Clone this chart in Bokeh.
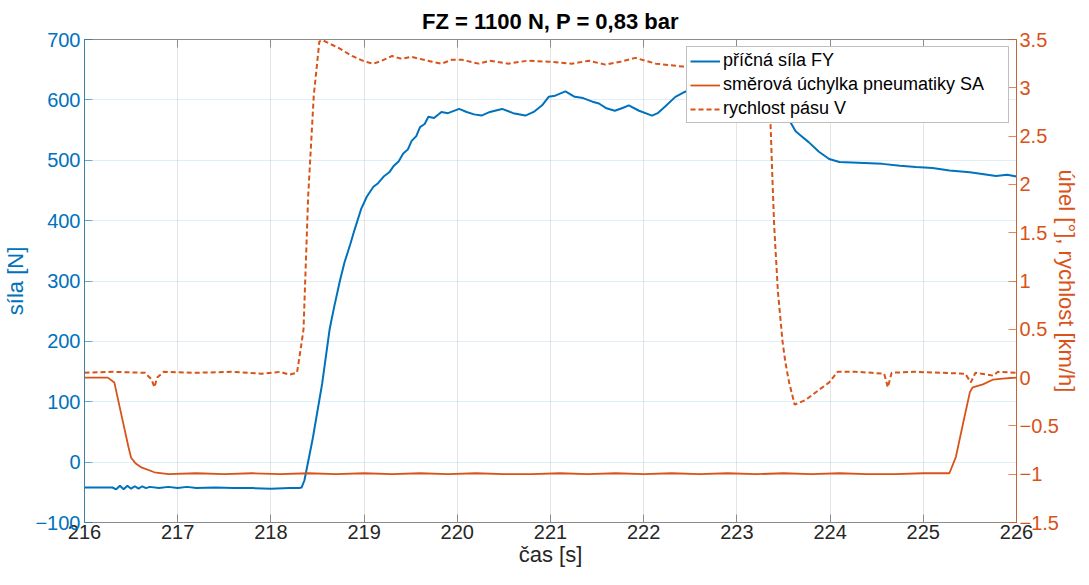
from bokeh.plotting import figure
from bokeh.models import Range1d, LinearAxis, Legend, LegendItem, FixedTicker
from bokeh.embed import file_html
from bokeh.resources import INLINE

# --- data -------------------------------------------------------------
fy_t = [216.00, 216.20, 216.30, 216.34, 216.38, 216.42, 216.46, 216.50, 216.54, 216.58,
        216.62, 216.66, 216.70, 216.80, 216.90, 217.00, 217.10, 217.20, 217.40, 217.60,
        217.80, 218.00, 218.20, 218.30, 218.33, 218.36, 218.45, 218.55, 218.63, 218.68,
        218.74, 218.79, 218.85, 218.90, 218.97, 219.03, 219.10, 219.15, 219.21, 219.27,
        219.32, 219.37, 219.42, 219.47, 219.51, 219.56, 219.60, 219.65, 219.69, 219.75,
        219.83, 219.90, 220.02, 220.10, 220.18, 220.26, 220.35, 220.48, 220.60, 220.73,
        220.82, 220.91, 220.98, 221.05, 221.16, 221.26, 221.35, 221.45, 221.52, 221.60,
        221.69, 221.78, 221.84, 221.95, 222.09, 222.15, 222.23, 222.34, 222.45, 222.60,
        222.90, 223.20, 223.40, 223.57, 223.63, 223.70, 223.77, 223.88, 223.99, 224.10,
        224.30, 224.56, 224.75, 224.92, 225.10, 225.28, 225.50, 225.65, 225.78, 225.90,
        226.00]
fy_n = [-42, -42, -42, -45, -39, -45, -39, -44, -40, -44,
        -40, -43, -41, -43, -41, -43, -41, -43, -42, -43,
        -43, -44, -43, -43, -42, -30, 40, 130, 220, 258,
        300, 331, 360, 386, 420, 440, 456, 462, 473, 480,
        491, 498, 511, 518, 532, 540, 555, 560, 572, 570,
        580, 578, 585, 580, 576, 574, 580, 585, 578, 574,
        580, 591, 605, 607, 614, 605, 603, 597, 594, 586,
        582, 587, 591, 582, 574, 578, 589, 605, 614, 612,
        605, 595, 580, 564, 548, 539, 530, 514, 502, 497,
        496, 494, 491, 489, 487, 483, 480, 477, 474, 476,
        473]

sa_t = [216.00, 216.25, 216.32, 216.39, 216.47, 216.50, 216.55, 216.61, 216.75, 216.90,
        217.20, 217.50, 217.80, 218.10, 218.40, 218.70, 219.00, 219.30, 219.60, 219.90,
        220.20, 220.50, 220.80, 221.10, 221.40, 221.70, 222.00, 222.30, 222.60, 222.90,
        223.20, 223.50, 223.80, 224.10, 224.40, 224.70, 225.00, 225.28, 225.35, 225.43,
        225.50, 225.53, 225.64, 225.75, 225.85, 226.00]
sa_deg = [0.0, 0.0, -0.05, -0.36, -0.71, -0.83, -0.89, -0.93, -0.98, -1.0,
          -0.99, -1.0, -0.99, -1.0, -0.99, -1.0, -0.99, -1.0, -0.99, -1.0,
          -0.99, -1.0, -1.0, -0.99, -1.0, -0.99, -1.0, -0.99, -1.0, -0.99,
          -1.0, -0.99, -1.0, -0.99, -1.0, -1.0, -0.99, -0.99, -0.82, -0.46,
          -0.15, -0.10, -0.07, -0.02, -0.01, 0.0]

v_t = [216.00, 216.30, 216.65, 216.72, 216.75, 216.78, 216.85, 217.20, 217.60, 217.90,
       218.10, 218.20, 218.28, 218.32, 218.35, 218.40, 218.46, 218.52, 218.56, 218.73,
       218.87, 219.01, 219.10, 219.19, 219.30, 219.40, 219.51, 219.73, 219.83, 219.94,
       220.05, 220.23, 220.35, 220.55, 220.75, 220.98, 221.23, 221.41, 221.59, 221.75,
       221.91, 222.13, 222.42, 222.70, 223.00, 223.30, 223.34, 223.36, 223.38, 223.40,
       223.44, 223.49, 223.52, 223.56, 223.62, 223.74, 223.89, 223.99, 224.08, 224.27,
       224.45, 224.58, 224.62, 224.66, 224.90, 225.20, 225.45, 225.51, 225.56, 225.75,
       225.80, 226.00]
v_kmh = [0.05, 0.06, 0.05, -0.02, -0.10, 0.0, 0.06, 0.05, 0.06, 0.04,
         0.06, 0.03, 0.05, 0.30, 0.50, 1.88, 2.92, 3.48, 3.49, 3.41,
         3.33, 3.27, 3.25, 3.28, 3.33, 3.30, 3.32, 3.27, 3.25, 3.29,
         3.29, 3.25, 3.28, 3.25, 3.28, 3.27, 3.25, 3.28, 3.24, 3.27,
         3.31, 3.25, 3.22, 3.25, 3.24, 3.22, 2.90, 2.65, 2.09, 1.57,
         0.89, 0.37, 0.16, -0.05, -0.28, -0.23, -0.12, -0.05, 0.06, 0.06,
         0.05, 0.04, -0.10, 0.05, 0.06, 0.05, 0.04, -0.05, 0.05, 0.02,
         0.06, 0.05]

x_ticks = [216, 217, 218, 219, 220, 221, 222, 223, 224, 225, 226]
left_ticks = [-100, 0, 100, 200, 300, 400, 500, 600, 700]
right_ticks = [-1.5, -1, -0.5, 0, 0.5, 1, 1.5, 2, 2.5, 3, 3.5]

title_text = "FZ = 1100 N, P = 0,83 bar"
x_label = "čas [s]"
left_label = "síla [N]"
right_label = "úhel [°], rychlost [km/h]"
legend_labels = ["příčná síla FY", "směrová úchylka pneumatiky SA", "rychlost pásu V"]

# --- styles -----------------------------------------------------------
BLUE = "#0072BD"
ORANGE = "#D95319"
DARK = "#262626"
GRAY = "#8c8c8c"
FONT = "Liberation Sans"

p = figure(width=1081, height=569, output_backend="svg", toolbar_location=None,
           x_range=Range1d(216, 226), y_range=Range1d(-100, 700),
           min_border_left=76, min_border_right=0, min_border_top=0, min_border_bottom=0)
p.extra_y_ranges = {"r": Range1d(-1.5, 3.5)}

p.title.text = title_text
p.title.align = "center"
p.title.text_font = FONT
p.title.text_font_size = "22px"
p.title.text_font_style = "bold"
p.title.text_color = "#000000"
p.title.standoff = 12

p.outline_line_color = GRAY
p.outline_line_width = 1
p.background_fill_color = "white"
p.border_fill_color = "white"

# x axis
xa = p.xaxis[0]
xa.ticker = FixedTicker(ticks=x_ticks)
xa.axis_label = x_label
xa.axis_label_text_font = FONT
xa.axis_label_text_font_size = "22px"
xa.axis_label_text_font_style = "normal"
xa.axis_label_text_color = DARK
xa.axis_label_standoff = 0
xa.major_label_text_font = FONT
xa.major_label_text_font_size = "20px"
xa.major_label_text_color = DARK
xa.major_label_standoff = 2
xa.axis_line_color = GRAY
xa.major_tick_line_color = GRAY
xa.major_tick_in = 8
xa.major_tick_out = 0
xa.minor_tick_line_color = None

# top axis: only tick marks on the box edge (labels not painted)
ta = LinearAxis(ticker=FixedTicker(ticks=x_ticks))
ta.major_label_text_font_size = "1px"
ta.major_label_text_color = None
ta.major_label_standoff = 0
ta.axis_line_color = GRAY
ta.major_tick_line_color = GRAY
ta.major_tick_in = 8
ta.major_tick_out = 0
ta.minor_tick_line_color = None
p.add_layout(ta, "above")

# left axis
ya = p.yaxis[0]
ya.ticker = FixedTicker(ticks=left_ticks)
ya.axis_label = left_label
ya.axis_label_text_font = FONT
ya.axis_label_text_font_size = "22px"
ya.axis_label_text_font_style = "normal"
ya.axis_label_text_color = BLUE
ya.axis_label_standoff = 4
ya.major_label_text_font = FONT
ya.major_label_text_font_size = "20px"
ya.major_label_text_color = BLUE
ya.major_label_standoff = 4
ya.axis_line_color = BLUE
ya.axis_line_alpha = 0.55
ya.major_tick_line_color = BLUE
ya.major_tick_line_alpha = 0.55
ya.major_tick_in = 8
ya.major_tick_out = 0
ya.minor_tick_line_color = None

# right axis
ra = LinearAxis(y_range_name="r", ticker=FixedTicker(ticks=right_ticks))
ra.axis_label = right_label
ra.axis_label_text_font = FONT
ra.axis_label_text_font_size = "22px"
ra.axis_label_text_font_style = "normal"
ra.axis_label_text_color = ORANGE
ra.axis_label_standoff = -8
ra.major_label_text_font = FONT
ra.major_label_text_font_size = "20px"
ra.major_label_text_color = ORANGE
ra.major_label_standoff = 3
ra.axis_line_color = ORANGE
ra.axis_line_alpha = 0.7
ra.major_tick_line_color = ORANGE
ra.major_tick_line_alpha = 0.7
ra.major_tick_in = 8
ra.major_tick_out = 0
ra.minor_tick_line_color = None
p.add_layout(ra, "right")

# grids
p.xgrid.ticker = FixedTicker(ticks=x_ticks)
p.xgrid.grid_line_color = DARK
p.xgrid.grid_line_alpha = 0.12
p.ygrid.ticker = FixedTicker(ticks=left_ticks)
p.ygrid.grid_line_color = BLUE
p.ygrid.grid_line_alpha = 0.12

# lines
r_fy = p.line(fy_t, fy_n, line_color=BLUE, line_width=2)
r_sa = p.line(sa_t, sa_deg, line_color=ORANGE, line_width=1.8, y_range_name="r")
r_v = p.line(v_t, v_kmh, line_color=ORANGE, line_width=2, line_dash="5 3", y_range_name="r")

legend = Legend(items=[LegendItem(label=legend_labels[0], renderers=[r_fy]),
                       LegendItem(label=legend_labels[1], renderers=[r_sa]),
                       LegendItem(label=legend_labels[2], renderers=[r_v])],
                location="top_right")
legend.label_text_font = FONT
legend.label_text_font_size = "18px"
legend.label_text_color = "#000000"
legend.label_standoff = 3
legend.label_height = 20
legend.label_width = 282
legend.glyph_width = 30
legend.glyph_height = 20
legend.spacing = 3
legend.padding = 3
legend.margin = 7
legend.border_line_color = "#7f7f7f"
legend.border_line_width = 1
legend.background_fill_color = "white"
legend.background_fill_alpha = 1.0
p.add_layout(legend, "center")

open("out.html", "w").write(file_html(p, INLINE))
